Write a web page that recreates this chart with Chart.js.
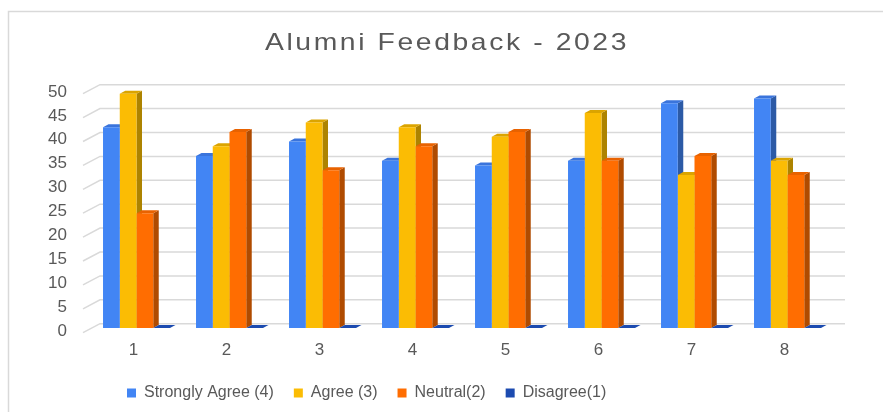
<!DOCTYPE html>
<html>
<head>
<meta charset="utf-8">
<script src="https://cdn.jsdelivr.net/npm/chart.js@4.4.0/dist/chart.umd.min.js"></script>
<style>
  html, body { margin: 0; padding: 0; background: #fff; overflow: hidden; }
  #wrap { width: 883px; height: 412px; position: relative; }
</style>
</head>
<body>
<div id="wrap"><canvas id="feedbackChart"></canvas></div>
<script>
// Alumni feedback chart data
const categories = ['1', '2', '3', '4', '5', '6', '7', '8'];
const stronglyAgree = [42, 36, 39, 35, 34, 35, 47, 48];
const agree = [49, 38, 43, 42, 40, 45, 32, 35];
const neutral = [24, 41, 33, 38, 41, 35, 36, 32];
const disagree = [0, 0, 0, 0, 0, 0, 0, 0];
const yTicks = [0, 5, 10, 15, 20, 25, 30, 35, 40, 45, 50];

const seriesNames = ['Strongly Agree (4)', 'Agree (3)', 'Neutral(2)', 'Disagree(1)'];
const frontColors = ['#4285f4', '#fbbc04', '#ff6d01', '#1c4bb0'];
const sideColors = ['#2c5aa6', '#ad8300', '#b04b00', '#163b8a'];
const topColors = ['#3a74dc', '#dba400', '#e86200', '#1b47a8'];

const textColor = '#595959';
const fontFamily = '"Liberation Sans", Arial, sans-serif';

// depth of the bars and of the back wall
const barDx = 5.5, barDy = -3;
const wallDx = 10, wallDy = -4.3;

// the 3d faces + back wall grid, drawn before the flat bar fronts
const threeD = {
  id: 'threeD',
  beforeDraw(chart) {
    const ctx = chart.ctx;
    ctx.save();
    ctx.strokeStyle = '#d9d9d9';
    ctx.lineWidth = 1.5;
    ctx.strokeRect(8.5, 11.5, 1000, 1000);
    // title, a bit stretched like the original
    ctx.fillStyle = textColor;
    ctx.font = '24px ' + fontFamily;
    ctx.letterSpacing = '2.2px';
    ctx.textAlign = 'center';
    ctx.textBaseline = 'alphabetic';
    ctx.translate(447, 50);
    ctx.scale(1.18, 1);
    ctx.fillText('Alumni Feedback - 2023', 0, 0);
    ctx.restore();
  },
  beforeDatasetsDraw(chart) {
    const ctx = chart.ctx;
    const area = chart.chartArea;
    const y = chart.scales.y;
    ctx.save();
    // back wall grid lines
    ctx.strokeStyle = '#d9d9d9';
    ctx.lineWidth = 1.5;
    yTicks.forEach(v => {
      const py = y.getPixelForValue(v);
      ctx.beginPath();
      ctx.moveTo(area.left - 7, py + 4.7);
      ctx.lineTo(area.left + wallDx, py + wallDy);
      ctx.lineTo(area.right + wallDx + 1, py + wallDy);
      ctx.stroke();
    });
    // side faces
    chart.data.datasets.forEach((ds, i) => {
      chart.getDatasetMeta(i).data.forEach(bar => {
        const r = bar.x + bar.width / 2;
        if (bar.base - bar.y < 0.5) return;
        ctx.fillStyle = sideColors[i];
        ctx.beginPath();
        ctx.moveTo(r, bar.y);
        ctx.lineTo(r + barDx, bar.y + barDy);
        ctx.lineTo(r + barDx, bar.base + barDy);
        ctx.lineTo(r, bar.base);
        ctx.closePath();
        ctx.fill();
      });
    });
    // top faces
    chart.data.datasets.forEach((ds, i) => {
      chart.getDatasetMeta(i).data.forEach(bar => {
        const l = bar.x - bar.width / 2;
        const r = bar.x + bar.width / 2;
        const flat = bar.base - bar.y < 0.5;
        ctx.fillStyle = flat ? frontColors[i] : topColors[i];
        ctx.beginPath();
        ctx.moveTo(l, bar.y);
        ctx.lineTo(l + barDx, bar.y + barDy);
        ctx.lineTo(r + barDx, bar.y + barDy);
        ctx.lineTo(r, bar.y);
        ctx.closePath();
        ctx.fill();
      });
    });
    ctx.restore();
  },
  afterLayout(chart) {
    // legend sits left of centre in the original
    const lg = chart.legend;
    const shift = 127 - lg.options.labels.padding;
    lg.left = shift;
    lg.right = shift + 700;
  }
};

const makeSet = (i, values) => ({
  label: seriesNames[i],
  data: values,
  backgroundColor: frontColors[i],
  borderWidth: 0
});

const feedbackChart = new Chart(document.getElementById('feedbackChart'), {
  type: 'bar',
  data: {
    labels: categories,
    datasets: [
      makeSet(0, stronglyAgree),
      makeSet(1, agree),
      makeSet(2, neutral),
      makeSet(3, disagree)
    ]
  },
  options: {
    responsive: true,
    maintainAspectRatio: false,
    animation: false,
    layout: { padding: { left: 10, right: 49, top: 89, bottom: 1 } },
    datasets: { bar: { barPercentage: 1, categoryPercentage: 0.72 } },
    plugins: {
      title: { display: false },
      tooltip: { enabled: false },
      legend: {
        position: 'bottom',
        align: 'start',
        labels: {
          boxWidth: 9,
          boxHeight: 9,
          padding: 20,
          color: textColor,
          font: { family: fontFamily, size: 16 }
        }
      }
    },
    scales: {
      x: {
        grid: { display: false, drawTicks: false },
        border: { display: false },
        ticks: { color: textColor, padding: 12, labelOffset: -3, font: { family: fontFamily, size: 17 } },
        afterFit(s) { s.height = 37; }
      },
      y: {
        min: 0,
        max: 50,
        grid: { display: false, drawTicks: false },
        border: { display: false },
        ticks: { stepSize: 5, autoSkip: false, color: textColor, padding: 23, labelOffset: 3, font: { family: fontFamily, size: 17 } },
        afterFit(s) { s.width = 80; }
      }
    }
  },
  plugins: [threeD]
});
</script>
</body>
</html>
